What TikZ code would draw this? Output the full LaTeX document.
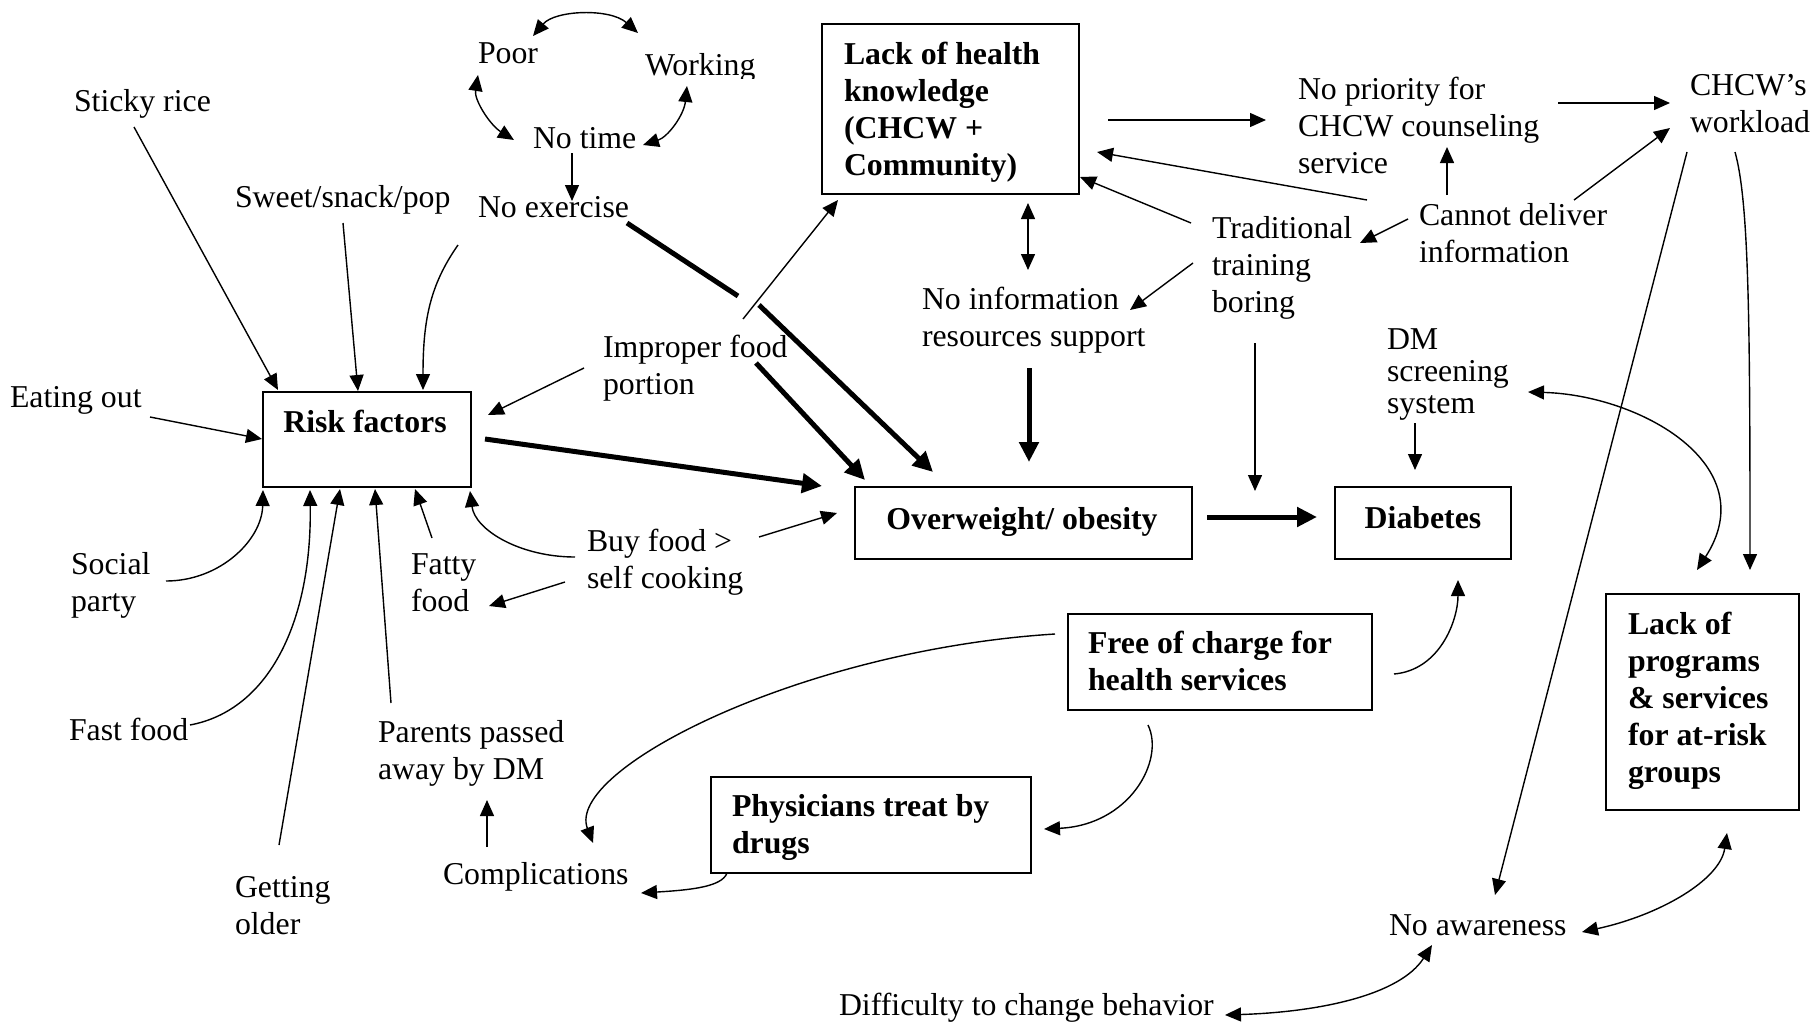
\documentclass[tikz,border=0pt]{standalone}
\usepackage{fontspec}
\setmainfont{Liberation Serif}
\usetikzlibrary{arrows.meta}
\newcommand{\mytop}{\rule{0pt}{26pt}}
\newcommand{\mybot}{\rule[-11pt]{0pt}{11pt}}
\begin{document}
\begin{tikzpicture}[x=1pt,y=-1pt,
  ttxt/.style={anchor=north west, inner sep=0pt, outer sep=0pt, align=left, font=\fontsize{31.8}{37.2}\selectfont},
  btxt/.style={ttxt, font=\fontsize{31.8}{37.2}\selectfont\bfseries},
  rbox/.style={draw, line width=1.8pt, inner sep=0pt, outer sep=0pt, anchor=north west},
  arr/.style={line width=1.4pt, -{Triangle[length=16pt,width=14pt]}},
  darr/.style={line width=1.4pt, {Triangle[length=16pt,width=14pt]}-{Triangle[length=16pt,width=14pt]}},
  tarr/.style={line width=5pt, -{Triangle[length=20pt,width=19pt]}}]
\fill[white] (0,0) rectangle (1815,1023);
\useasboundingbox (0,0) rectangle (1815,1023);

% boxes
\node[rbox, minimum width=208pt, minimum height=95pt] (rf) at (263,392) {};
\node[rbox, minimum width=257pt, minimum height=170pt] (lhk) at (822,24) {};
\node[rbox, minimum width=337pt, minimum height=72pt] (ow) at (855,487) {};
\node[rbox, minimum width=176pt, minimum height=72pt] (db) at (1335,487) {};
\node[rbox, minimum width=304pt, minimum height=96pt] (free) at (1068,614) {};
\node[rbox, minimum width=320pt, minimum height=96pt] (phys) at (711,777) {};
\node[rbox, minimum width=193pt, minimum height=216pt] (lps) at (1606,594) {};

% box texts
\node[btxt, anchor=north] (rft) at (365,406) {\mytop Risk factors\mybot};
\node[btxt] (lhkt) at (844,38) {\mytop Lack of health\\knowledge\\(CHCW +\\Community)\mybot};
\node[btxt, anchor=north] (owt) at (1022,503) {\mytop Overweight/ obesity\mybot};
\node[btxt, anchor=north] (dbt) at (1423,502) {\mytop Diabetes\mybot};
\node[btxt] (freet) at (1088,627) {\mytop Free of charge for\\health services\mybot};
\node[btxt] (physt) at (732,790) {\mytop Physicians treat by\\drugs\mybot};
\node[btxt] (lpst) at (1628,608) {\mytop Lack of\\programs\\\& services\\for at-risk\\groups\mybot};

% plain texts
\node[ttxt] (poor) at (478,37) {\mytop Poor\mybot};
\node[ttxt] (working) at (645,49) {\mytop Working\mybot};
\node[ttxt] (notime) at (533,122) {\mytop No time\mybot};
\node[ttxt] (noex) at (478,191) {\mytop No exercise\mybot};
\node[ttxt] (sticky) at (74,85) {\mytop Sticky rice\mybot};
\node[ttxt] (sweet) at (235,181) {\mytop Sweet/snack/pop\mybot};
\node[ttxt] (eating) at (10,381) {\mytop Eating out\mybot};
\node[ttxt] (improper) at (603,331) {\mytop Improper food\\portion\mybot};
\node[ttxt] (social) at (71,548) {\mytop Social\\party\mybot};
\node[ttxt] (fatty) at (411,548) {\mytop Fatty\\food\mybot};
\node[ttxt] (buy) at (587,525) {\mytop Buy food >\\self cooking\mybot};
\node[ttxt] (fast) at (69,714) {\mytop Fast food\mybot};
\node[ttxt] (parents) at (378,716) {\mytop Parents passed\\away by DM\mybot};
\node[ttxt] (getting) at (235,871) {\mytop Getting\\older\mybot};
\node[ttxt] (compl) at (443,858) {\mytop Complications\mybot};
\node[ttxt] (noinfo) at (922,283) {\mytop No information\\resources support\mybot};
\node[ttxt] (nopri) at (1298,73) {\mytop No priority for\\CHCW counseling\\service\mybot};
\node[ttxt] (chcw) at (1690,69) {\mytop CHCW’s\\workload\mybot};
\node[ttxt] (trad) at (1212,212) {\mytop Traditional\\training\\boring\mybot};
\node[ttxt] (cannot) at (1419,199) {\mytop Cannot deliver\\information\mybot};
\node[ttxt, font=\fontsize{31.8}{32}\selectfont] (dm) at (1387,323) {\mytop DM\\screening\\system\mybot};
\node[ttxt] (noaware) at (1389,909) {\mytop No awareness\mybot};
\node[ttxt] (diff) at (839,989) {\mytop Difficulty to change behavior\mybot};
% the reference cuts off the descender of "Working"
\fill[white] (738,79) rectangle (764,92);

% connectors: top-left cycle
\draw[darr] ([shift={(55,-1)}]poor.north west) .. controls +(22,-26) and +(-28,-25) .. ([shift={(-7,-16)}]working.north west);
\draw[darr] ([shift={(0,38)}]poor.north west) .. controls +(-4,25) and +(-24,-15) .. ([shift={(-19,18)}]notime.north west);
\draw[darr] ([shift={(42,37)}]working.north west) .. controls +(-3,29) and +(25,-8) .. ([shift={(110,23)}]notime.north west);
\draw[arr] ([shift={(39,31)}]notime.north west) -- ([shift={(94,10)}]noex.north west);

% into risk factors
\draw[arr] ([shift={(60,42)}]sticky.north west) -- ([shift={(15,-2)}]rf.north west);
\draw[arr] ([shift={(108,42)}]sweet.north west) -- ([shift={(95,-1)}]rf.north west);
\draw[arr] ([shift={(-20,54)}]noex.north west) .. controls +(-28,40) and +(0,-70) .. ([shift={(160,-2)}]rf.north west);
\draw[arr] ([shift={(140,36)}]eating.north west) -- ([shift={(-1,47)}]rf.north west);
\draw[arr] ([shift={(-19,37)}]improper.north west) -- ([shift={(225,23)}]rf.north west);
\draw[arr] ([shift={(-12,32)}]buy.north west) .. controls +(-55,0) and +(5,39) .. ([shift={(207,99)}]rf.north west);
\draw[arr] ([shift={(-22,57)}]buy.north west) -- ([shift={(78,58)}]fatty.north west);
\draw[arr] ([shift={(21,-10)}]fatty.north west) -- ([shift={(152,97)}]rf.north west);
\draw[arr] ([shift={(95,33)}]social.north west) .. controls +(54,0) and +(-1,50) .. ([shift={(0,98)}]rf.north west);
\draw[arr] ([shift={(121,11)}]fast.north west) .. controls +(80,-15) and +(2,130) .. ([shift={(47,98)}]rf.north west);
\draw[arr] ([shift={(44,-26)}]getting.north west) -- ([shift={(77,97)}]rf.north west);
\draw[arr] ([shift={(13,-13)}]parents.north west) -- ([shift={(112,97)}]rf.north west);
\draw[arr] ([shift={(44,-11)}]compl.north west) -- ([shift={(109,84)}]parents.north west);

% into overweight
\draw[tarr] ([shift={(222,47)}]rf.north west) -- ([shift={(-33,-1)}]ow.north west);
\draw[tarr] ([shift={(149,32)}]noex.north west) -- ([shift={(260,105)}]noex.north west)
            ([shift={(-96,-182)}]ow.north west) -- ([shift={(78,-15)}]ow.north west);
\draw[tarr] ([shift={(153,32)}]improper.north west) -- ([shift={(10,-7)}]ow.north west);
\draw[arr] ([shift={(140,-12)}]improper.north west) -- ([shift={(16,176)}]lhk.north west);
\draw[arr] ([shift={(172,12)}]buy.north west) -- ([shift={(-18,26)}]ow.north west);
\draw[tarr] ([shift={(107,85)}]noinfo.north west) -- ([shift={(174,-25)}]ow.north west);
\draw[tarr] ([shift={(352,30)}]ow.north west) -- ([shift={(-18,30)}]db.north west);

% lower middle
\draw[arr] ([shift={(16,96)}]phys.north west) .. controls +(-5,14) and +(49,-3) .. ([shift={(198,35)}]compl.north west);
\draw[arr] ([shift={(-13,20)}]free.north west) .. controls +(-255,16) and +(-28,-73) .. ([shift={(150,-15)}]compl.north west);
\draw[arr] ([shift={(80,111)}]free.north west) .. controls +(17,35) and +(86,-4) .. ([shift={(333,52)}]phys.north west);
\draw[arr] ([shift={(326,60)}]free.north west) .. controls +(46,-4) and +(0,40) .. ([shift={(123,93)}]db.north west);

% into diabetes
\draw[arr] ([shift={(28,100)}]dm.north west) -- ([shift={(80,-17)}]db.north west);
\draw[arr] ([shift={(43,131)}]trad.north west) -- ([shift={(-80,4)}]db.north west);

% top right
\draw[darr] ([shift={(206,179)}]lhk.north west) -- ([shift={(106,-13)}]noinfo.north west);
\draw[arr] ([shift={(286,96)}]lhk.north west) -- ([shift={(-32,47)}]nopri.north west);
\draw[arr] ([shift={(260,30)}]nopri.north west) -- ([shift={(-20,34)}]chcw.north west);
\draw[arr] ([shift={(-52,1)}]cannot.north west) -- ([shift={(275,128)}]lhk.north west);
\draw[arr] ([shift={(-21,11)}]trad.north west) -- ([shift={(258,153)}]lhk.north west);
\draw[arr] ([shift={(-11,20)}]cannot.north west) -- ([shift={(148,31)}]trad.north west);
\draw[arr] ([shift={(28,-4)}]cannot.north west) -- ([shift={(149,74)}]nopri.north west);
\draw[arr] ([shift={(155,1)}]cannot.north west) -- ([shift={(-20,59)}]chcw.north west);
\draw[arr] ([shift={(-19,51)}]trad.north west) -- ([shift={(208,27)}]noinfo.north west);

% right side
\draw[arr] ([shift={(-3,83)}]chcw.north west) -- ([shift={(106,-14)}]noaware.north west);
\draw[arr] ([shift={(45,83)}]chcw.north west) .. controls +(14,50) and +(0,-250) .. ([shift={(144,-24)}]lps.north west);
\draw[darr] ([shift={(141,69)}]dm.north west) .. controls +(112,3) and +(68,-105) .. ([shift={(91,-24)}]lps.north west);
\draw[darr] ([shift={(193,23)}]noaware.north west) .. controls +(78,-17) and +(-7,47) .. ([shift={(121,239)}]lps.north west);
\draw[darr] ([shift={(43,36)}]noaware.north west) .. controls +(-32,50) and +(95,-3) .. ([shift={(386,26)}]diff.north west);
\end{tikzpicture}
\end{document}
